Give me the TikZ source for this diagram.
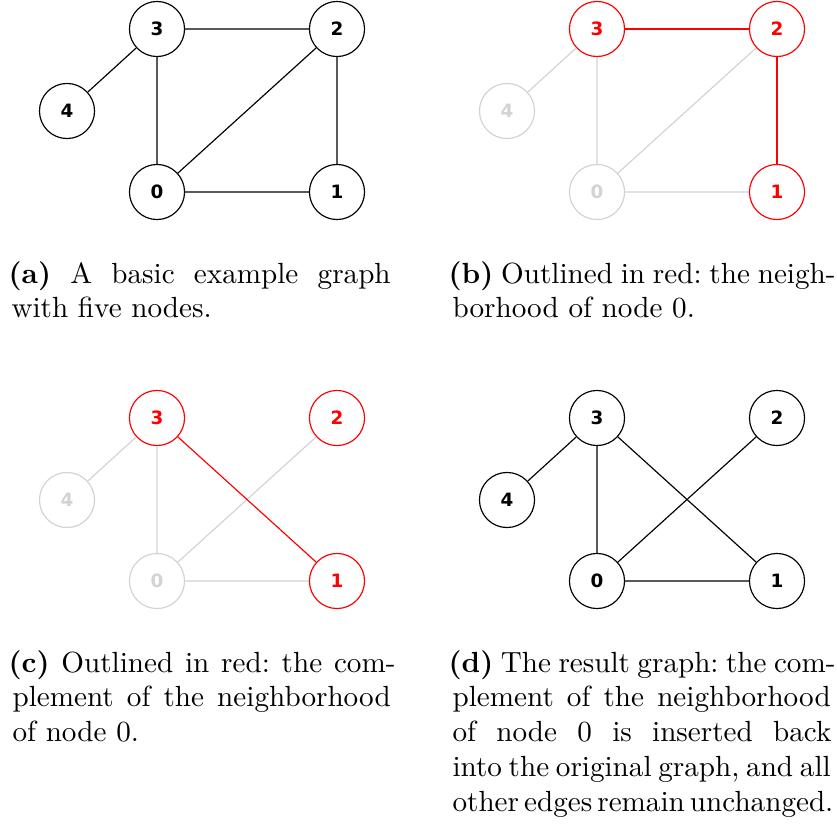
\documentclass[tikz,border=0pt]{standalone}
\usepackage{fontspec}
\usepackage{microtype}
\newfontfamily\vtxfont{DejaVu Sans}
\usetikzlibrary{positioning}
\definecolor{dim}{HTML}{D3D3D3}
\definecolor{hl}{HTML}{FF0000}
\newcommand\capfont{\fontsize{10}{12}\selectfont\frenchspacing
  \spaceskip=3.33pt plus 1.66pt minus 1.6pt\relax}

\begin{document}
\begin{tikzpicture}[
  vtx/.style={circle,draw,fill=white,inner sep=0pt,minimum size=18.9pt,
    font=\vtxfont\bfseries\fontsize{6.3}{7}\selectfont},
  hi/.style={vtx,draw=hl,text=hl},
  lo/.style={vtx,draw=dim,text=dim},
  edge/.style={line width=0.4pt},
  edgehi/.style={edge,draw=hl},
  edgelo/.style={edge,draw=dim},
  subcap/.style={anchor=base west,inner sep=0pt,text width=129.7pt,align=justify},
  x=0.343pt,y=-0.343pt]
\useasboundingbox (0,0) rectangle (837,825);

% (a) example graph
\begin{scope}
\foreach \n/\px/\py/\s in {0/157/192/vtx,1/337/192/vtx,2/337/29/vtx,3/157/29/vtx,4/67/111/vtx}
  \node[\s] (a\n) at (\px,\py) {\n};
\draw[edge] (a3) -- (a2) (a3) -- (a4) (a3) -- (a0) (a0) -- (a2) (a2) -- (a1) (a0) -- (a1);
\node[subcap] (capa) at (12,283) {\capfont\textbf{(a)} A basic example graph\linebreak with five nodes.};
\end{scope}

% (b) neighborhood of node 0
\begin{scope}[shift={(440,0)}]
\foreach \n/\px/\py/\s in {0/157/192/lo,1/337/192/hi,2/337/29/hi,3/157/29/hi,4/67/111/lo}
  \node[\s] (b\n) at (\px,\py) {\n};
\draw[edgelo] (b3) -- (b4) (b3) -- (b0) (b0) -- (b2) (b0) -- (b1);
\draw[edgehi] (b3) -- (b2) (b2) -- (b1);
\node[subcap] (capb) at (12,283) {\capfont\textbf{(b)} Outlined in red: the neigh-\linebreak borhood of node 0.};
\end{scope}

% (c) complement of the neighborhood
\begin{scope}[shift={(0,389)}]
\foreach \n/\px/\py/\s in {0/157/192/lo,1/337/192/hi,2/337/29/hi,3/157/29/hi,4/67/111/lo}
  \node[\s] (c\n) at (\px,\py) {\n};
\draw[edgelo] (c3) -- (c4) (c3) -- (c0) (c0) -- (c2) (c0) -- (c1);
\draw[edgehi] (c3) -- (c1);
\node[subcap] (capc) at (12,283) {\capfont\textbf{(c)} Outlined in red: the com-\linebreak plement of the neighborhood\linebreak of node 0.};
\end{scope}

% (d) result graph
\begin{scope}[shift={(440,389)}]
\foreach \n/\px/\py/\s in {0/157/192/vtx,1/337/192/vtx,2/337/29/vtx,3/157/29/vtx,4/67/111/vtx}
  \node[\s] (d\n) at (\px,\py) {\n};
\draw[edge] (d3) -- (d4) (d3) -- (d0) (d3) -- (d1) (d0) -- (d2) (d0) -- (d1);
\node[subcap] (capd) at (12,283) {\capfont\textbf{(d)} The result graph: the com-\linebreak plement of the neighborhood\linebreak of node 0 is inserted back\linebreak into the original graph, and all\linebreak \makebox[\linewidth][s]{other edges remain unchanged.}};
\end{scope}
\end{tikzpicture}
\end{document}
